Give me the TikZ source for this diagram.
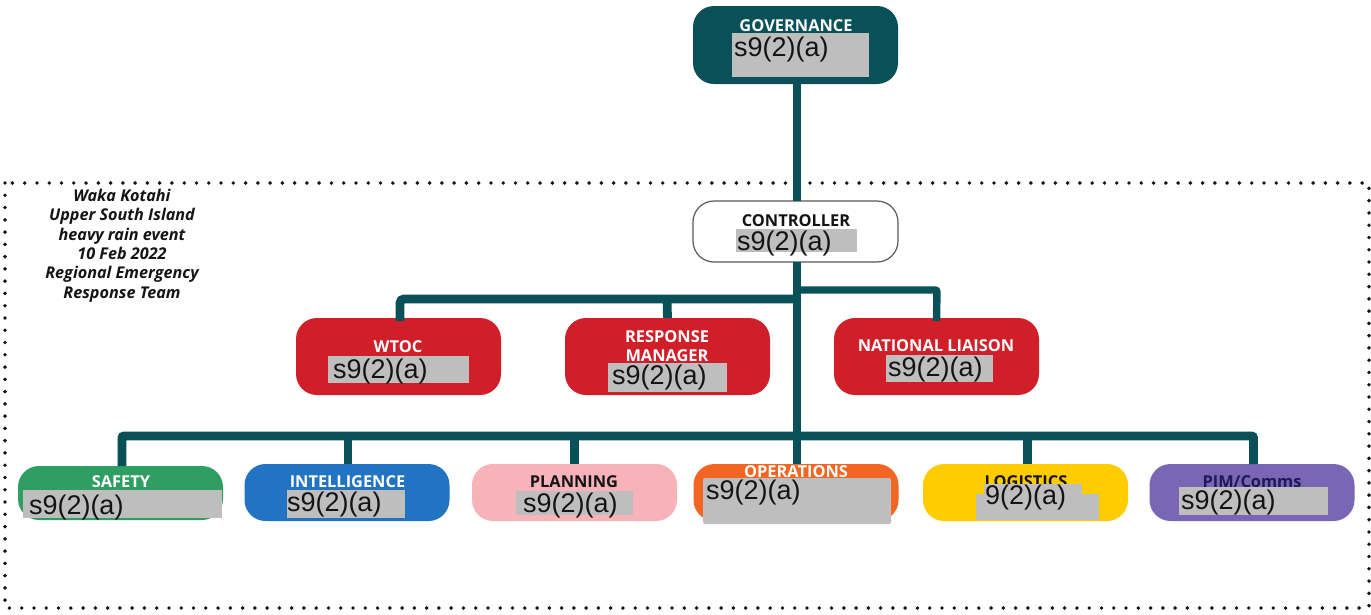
\documentclass[tikz,border=0pt]{standalone}
\usepackage{fontspec}
\setmainfont{Open Sans}
\newfontfamily\redactfont{Liberation Sans}
\definecolor{teal}{HTML}{0A5058}
\definecolor{redbox}{HTML}{D11F2A}
\definecolor{safetyc}{HTML}{2F9E63}
\definecolor{intelc}{HTML}{2274C2}
\definecolor{planc}{HTML}{F8B2BA}
\definecolor{opsc}{HTML}{F26522}
\definecolor{logic}{HTML}{FFCC00}
\definecolor{pimc}{HTML}{7B65B5}
\definecolor{pimtext}{HTML}{1E1A55}
\definecolor{patch}{HTML}{BEBEBE}
\definecolor{inkc}{HTML}{141414}
\tikzset{
  x=1pt,y=-1pt,
  orgbox/.style={rounded corners=21pt,inner sep=0pt,outer sep=0pt},
  wide/.style={minimum width=205pt},
  tall/.style={minimum height=77pt},
  short/.style={minimum height=57pt},
  conn/.style={draw=teal,line width=8.8pt,rounded corners=2pt},
  head/.style={anchor=base,inner sep=0pt,outer sep=0pt,font=\bfseries\fontsize{16.4}{16.4}\selectfont},
  redacted/.style={anchor=base west,inner sep=0pt,outer sep=0pt,text=inkc,font=\redactfont\fontsize{27}{27}\selectfont},
  note/.style={anchor=base,inner sep=0pt,outer sep=0pt,text=inkc,font=\bfseries\itshape\fontsize{16.2}{16.2}\selectfont},
  patchfill/.style={fill=patch},
  frame/.style={draw=inkc,line width=3.9pt,line cap=round,dash pattern=on 0pt off 12.27pt}
}
\begin{document}
\begin{tikzpicture}
\useasboundingbox (0,0) rectangle (1371,614);
\fill[white] (0,0) rectangle (1371,614);
% dotted frame
\draw[frame] (5,183) rectangle (1369,608);
% boxes
\node[orgbox,wide,minimum height=78pt,fill=teal] (gov) at (795.5,45) {};
\node[orgbox,wide,minimum height=61pt,draw=black!65,line width=1.2pt,fill=white] (ctrl) at (795.5,231.5) {};
\node[orgbox,wide,tall,fill=redbox] (wtoc) at (398.5,356.5) {};
\node[orgbox,wide,tall,fill=redbox] (resp) at (667.5,356.5) {};
\node[orgbox,wide,tall,fill=redbox] (natl) at (936.5,356.5) {};
\node[orgbox,wide,minimum height=54pt,fill=safetyc] (safety) at (120.5,493) {};
\node[orgbox,wide,short,fill=intelc] (intel) at (347,492.5) {};
\node[orgbox,wide,short,fill=planc] (plan) at (574.5,492.5) {};
\node[orgbox,wide,short,fill=opsc] (ops) at (796,492.5) {};
\node[orgbox,wide,short,fill=logic] (logi) at (1025.5,492.5) {};
\node[orgbox,wide,short,fill=pimc] (pim) at (1252,492.5) {};
% junctions on the trunk
\coordinate (trunk) at (797,299);
\coordinate (midbar) at (797,299);
\coordinate (natbar) at (797,290);
\coordinate (lowbar) at (797,436);
% connectors
\draw[conn] (gov.south -| trunk) -- (ctrl.north -| trunk);
\draw[conn] (ctrl.south -| trunk) -- (ops.north -| trunk);
\draw[conn,rounded corners=4pt] (midbar) -- (400,299) -- ([xshift=1.5pt,yshift=-3pt]wtoc.north);
\draw[conn] (667,299) -- (resp.north);
\draw[conn,line width=7.4pt] (natbar) -- (937,290) -- ([yshift=-3pt]natl.north);
\draw[conn] (lowbar) -- (122,436) -- (safety.north -| 122,0);
\draw[conn] (348,436) -- (intel.north -| 348,0);
\draw[conn] (574.5,436) -- (plan.north);
\draw[conn] (lowbar) -- (1253.5,436) -- (pim.north -| 1253.5,0);
\draw[conn] (1027.5,436) -- (logi.north -| 1027.5,0);
% headings
\node[head,text=white] (govh) at (796,31) {GOVERNANCE};
\node[head,text=inkc] (ctrlh) at (796,226) {CONTROLLER};
\node[head,text=white] (wtoch) at (398,352) {WTOC};
\node[head,text=white] (resph) at (667,342) {RESPONSE};
\node[head,text=white] (resph2) at (667,361) {MANAGER};
\node[head,text=white] (natlh) at (936,351) {NATIONAL LIAISON};
\node[head,text=white] (safetyh) at (121,487) {SAFETY};
\node[head,text=white] (intelh) at (347.5,487) {INTELLIGENCE};
\node[head,text=inkc] (planh) at (574,487) {PLANNING};
\node[head,text=white] (opsh) at (796,477) {OPERATIONS};
\node[head,text=inkc] (logih) at (1026,487) {LOGISTICS};
\node[head,text=pimtext] (pimh) at (1252,487) {PIM/Comms};
% redaction patches
\fill[patchfill] (732,33) rectangle (869,77);
\fill[patchfill] (736,229) rectangle (857,252);
\fill[patchfill] (328,356) rectangle (469,383);
\fill[patchfill] (608,363) rectangle (727,392);
\fill[patchfill] (886,355) rectangle (993,382);
\fill[patchfill] (23,490) rectangle (222,518);
\fill[patchfill] (287,490) rectangle (405,518);
\fill[patchfill] (516,491) rectangle (633,515);
\fill[patchfill,rounded corners=2pt] (703,478) rectangle (891,524);
\fill[patchfill] (984,484) rectangle (1082,494);
\fill[patchfill] (976,494) rectangle (1099,520);
\fill[patchfill] (1179,487) rectangle (1328,515);
% redaction codes
\node[redacted] (govr) at (734,56) {s9(2)(a)};
\node[redacted] (ctrlr) at (737,250) {s9(2)(a)};
\node[redacted] (wtocr) at (333,378) {s9(2)(a)};
\node[redacted] (respr) at (612,384) {s9(2)(a)};
\node[redacted] (natlr) at (888,376) {s9(2)(a)};
\node[redacted] (safetyr) at (29,514) {s9(2)(a)};
\node[redacted] (intelr) at (287,511) {s9(2)(a)};
\node[redacted] (planr) at (523,512) {s9(2)(a)};
\node[redacted] (opsr) at (706,499) {s9(2)(a)};
\node[redacted] (logir) at (985,504) {9(2)(a)};
\node[redacted] (pimr) at (1181,509) {s9(2)(a)};
% note
\node[note] (n1) at (122,201) {Waka Kotahi};
\node[note] (n2) at (122,220.5) {Upper South Island};
\node[note] (n3) at (122,240) {heavy rain event};
\node[note] (n4) at (122,259) {10 Feb 2022};
\node[note] (n5) at (122,278.5) {Regional Emergency};
\node[note] (n6) at (122,298) {Response Team};
\end{tikzpicture}
\end{document}
